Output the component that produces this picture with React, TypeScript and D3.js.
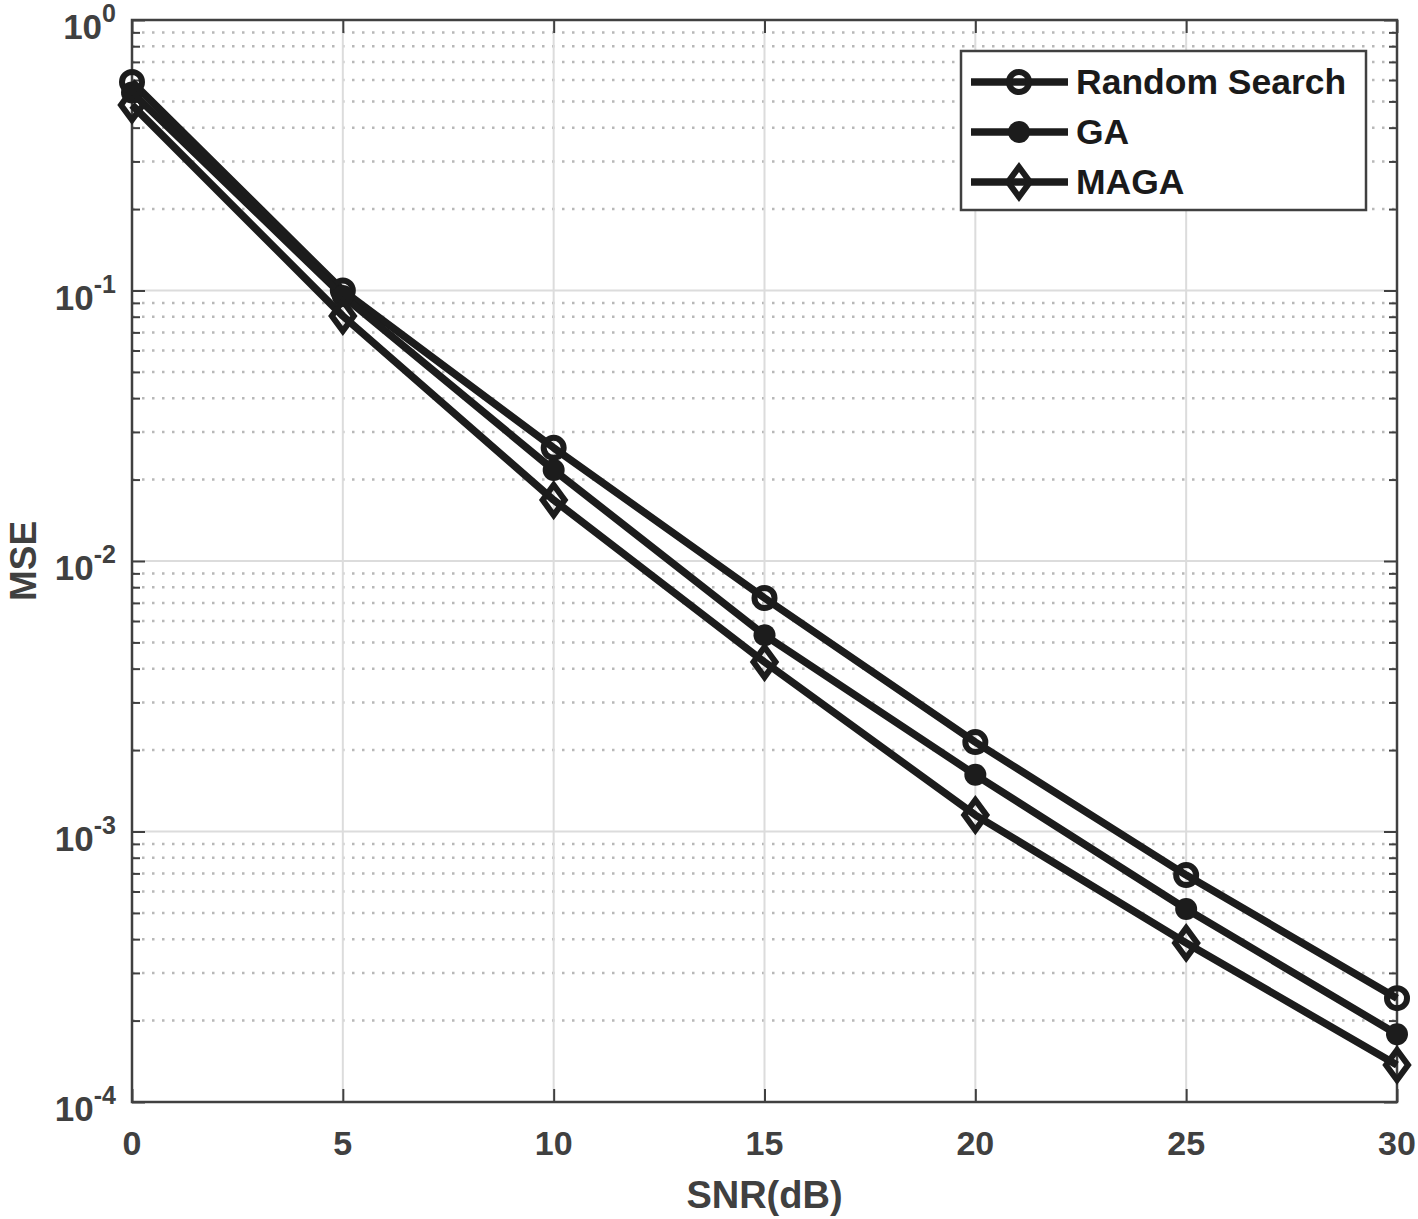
import { useEffect, useRef } from 'react';
import * as d3 from 'd3';

const snr = [0, 5, 10, 15, 20, 25, 30];
const randomSearch = [0.59, 0.1, 0.0262, 0.0073, 0.00214, 0.00069, 0.000242];
const ga = [0.54, 0.0955, 0.0217, 0.00532, 0.00162, 0.000517, 0.000178];
const maga = [0.485, 0.0805, 0.0168, 0.00423, 0.00115, 0.000387, 0.000137];
const seriesNames = ['Random Search', 'GA', 'MAGA'];
const xTicks = [0, 5, 10, 15, 20, 25, 30];
const yExponents = [0, -1, -2, -3, -4];

export default function App() {
    const svgRef = useRef<SVGSVGElement>(null);

    useEffect(() => {
        const width = 1418;
        const height = 1219;
        const margin = { top: 20, right: 21, bottom: 117, left: 132 };
        const innerWidth = width - margin.left - margin.right;
        const innerHeight = height - margin.top - margin.bottom;
        const axisColor = '#404040';
        const lineColor = '#1c1c1c';
        const font = '"Liberation Sans", Arial, sans-serif';

        d3.select(svgRef.current).selectAll('*').remove();

        const svg = d3
            .select(svgRef.current)
            .attr('width', width)
            .attr('height', height)
            .style('background', '#fff');

        const g = svg.append('g').attr('transform', `translate(${margin.left},${margin.top})`);

        const x = d3.scaleLinear().domain([0, 30]).range([0, innerWidth]);
        const y = d3.scaleLog().domain([1e-4, 1]).range([innerHeight, 0]);

        // minor values per decade
        const minor: number[] = [];
        yExponents.slice(1).forEach((e) => {
            for (let k = 2; k <= 9; k++) minor.push(k * Math.pow(10, e));
        });

        // minor grid (dotted)
        g.selectAll('.minor-grid')
            .data(minor)
            .enter()
            .append('line')
            .attr('x1', 0)
            .attr('x2', innerWidth)
            .attr('y1', (d) => y(d))
            .attr('y2', (d) => y(d))
            .attr('stroke', '#b8b8b8')
            .attr('stroke-width', 2.5)
            .attr('stroke-dasharray', '2.5 7.5');

        // major grid
        g.selectAll('.ygrid')
            .data(yExponents)
            .enter()
            .append('line')
            .attr('x1', 0)
            .attr('x2', innerWidth)
            .attr('y1', (d) => y(Math.pow(10, d)))
            .attr('y2', (d) => y(Math.pow(10, d)))
            .attr('stroke', '#dcdcdc')
            .attr('stroke-width', 2);

        g.selectAll('.xgrid')
            .data(xTicks)
            .enter()
            .append('line')
            .attr('x1', (d) => x(d))
            .attr('x2', (d) => x(d))
            .attr('y1', 0)
            .attr('y2', innerHeight)
            .attr('stroke', '#dcdcdc')
            .attr('stroke-width', 2);

        // Axes with inward ticks
        const styleAxis = (sel: any) => {
            sel.select('.domain').remove();
            sel.selectAll('line').attr('stroke', axisColor).attr('stroke-width', 2);
            sel.selectAll('text').remove();
        };

        g.append('g')
            .attr('transform', `translate(0,${innerHeight})`)
            .call(d3.axisBottom(x).tickValues(xTicks).tickSize(-13))
            .call(styleAxis);
        g.append('g').call(d3.axisTop(x).tickValues(xTicks).tickSize(-13)).call(styleAxis);

        const majorVals = yExponents.map((e) => Math.pow(10, e));
        g.append('g').call(d3.axisLeft(y).tickValues(majorVals).tickSize(-13)).call(styleAxis);
        g.append('g').call(d3.axisLeft(y).tickValues(minor).tickSize(-8)).call(styleAxis);
        g.append('g')
            .attr('transform', `translate(${innerWidth},0)`)
            .call(d3.axisRight(y).tickValues(majorVals).tickSize(-13))
            .call(styleAxis);
        g.append('g')
            .attr('transform', `translate(${innerWidth},0)`)
            .call(d3.axisRight(y).tickValues(minor).tickSize(-8))
            .call(styleAxis);

        // box
        g.append('rect')
            .attr('width', innerWidth)
            .attr('height', innerHeight)
            .attr('fill', 'none')
            .attr('stroke', axisColor)
            .attr('stroke-width', 2.5);

        // x tick labels
        g.selectAll('.xlabel')
            .data(xTicks)
            .enter()
            .append('text')
            .attr('x', (d) => x(d))
            .attr('y', innerHeight + 53)
            .attr('text-anchor', 'middle')
            .style('font-family', font)
            .style('font-weight', 'bold')
            .style('font-size', '34px')
            .style('fill', axisColor)
            .text((d) => d);

        // y tick labels 10^e
        const yl = g
            .selectAll('.ylabel')
            .data(yExponents)
            .enter()
            .append('text')
            .attr('x', -16)
            .attr('y', (d) => y(Math.pow(10, d)) + 19)
            .attr('text-anchor', 'end')
            .style('font-family', font)
            .style('font-weight', 'bold')
            .style('fill', axisColor);
        yl.append('tspan').style('font-size', '35px').text('10');
        yl.append('tspan')
            .attr('dy', -17)
            .style('font-size', '25px')
            .text((d) => `${d}`);

        // axis titles
        svg.append('text')
            .attr('x', margin.left + innerWidth / 2)
            .attr('y', 1208)
            .attr('text-anchor', 'middle')
            .style('font-family', font)
            .style('font-weight', 'bold')
            .style('font-size', '38px')
            .style('fill', axisColor)
            .text('SNR(dB)');
        svg.append('text')
            .attr('transform', `translate(36,${margin.top + innerHeight / 2}) rotate(-90)`)
            .attr('text-anchor', 'middle')
            .style('font-family', font)
            .style('font-weight', 'bold')
            .style('font-size', '37px')
            .style('fill', axisColor)
            .text('MSE');

        // series
        const series = [
            { name: seriesNames[0], values: randomSearch, marker: 'circle' },
            { name: seriesNames[1], values: ga, marker: 'dot' },
            { name: seriesNames[2], values: maga, marker: 'diamond' },
        ];

        const line = d3
            .line<number>()
            .x((_, i) => x(snr[i]))
            .y((d) => y(d));

        const drawMarker = (sel: any, type: string, cx: number, cy: number) => {
            if (type === 'circle') {
                sel.append('circle')
                    .attr('cx', cx)
                    .attr('cy', cy)
                    .attr('r', 10)
                    .attr('fill', 'none')
                    .attr('stroke', lineColor)
                    .attr('stroke-width', 6);
            } else if (type === 'dot') {
                sel.append('circle')
                    .attr('cx', cx)
                    .attr('cy', cy)
                    .attr('r', 11)
                    .attr('fill', lineColor);
            } else {
                sel.append('path')
                    .attr('d', `M${cx},${cy - 15}L${cx + 11},${cy}L${cx},${cy + 15}L${cx - 11},${cy}Z`)
                    .attr('fill', 'none')
                    .attr('stroke', lineColor)
                    .attr('stroke-width', 6)
                    .attr('stroke-linejoin', 'miter');
            }
        };

        series.forEach((s) => {
            g.append('path')
                .datum(s.values)
                .attr('d', line)
                .attr('fill', 'none')
                .attr('stroke', lineColor)
                .attr('stroke-width', 7.5)
                .attr('stroke-linejoin', 'round');
            s.values.forEach((v, i) => drawMarker(g, s.marker, x(snr[i]), y(v)));
        });

        // legend
        const lg = svg.append('g').attr('transform', 'translate(961,51)');
        lg.append('rect')
            .attr('width', 405)
            .attr('height', 159)
            .attr('fill', '#fff')
            .attr('stroke', axisColor)
            .attr('stroke-width', 2.5);
        series.forEach((s, i) => {
            const cy = 31 + i * 50;
            lg.append('line')
                .attr('x1', 10)
                .attr('x2', 107)
                .attr('y1', cy)
                .attr('y2', cy)
                .attr('stroke', lineColor)
                .attr('stroke-width', 7.5);
            drawMarker(lg, s.marker, 58, cy);
            lg.append('text')
                .attr('x', 115)
                .attr('y', cy + 12)
                .style('font-family', font)
                .style('font-weight', 'bold')
                .style('font-size', '35.5px')
                .style('fill', '#1a1a1a')
                .text(s.name);
        });
    }, []);

    return (
        <div style={{ position: 'absolute', left: 0, top: 0 }}>
            <svg ref={svgRef}></svg>
        </div>
    );
}
